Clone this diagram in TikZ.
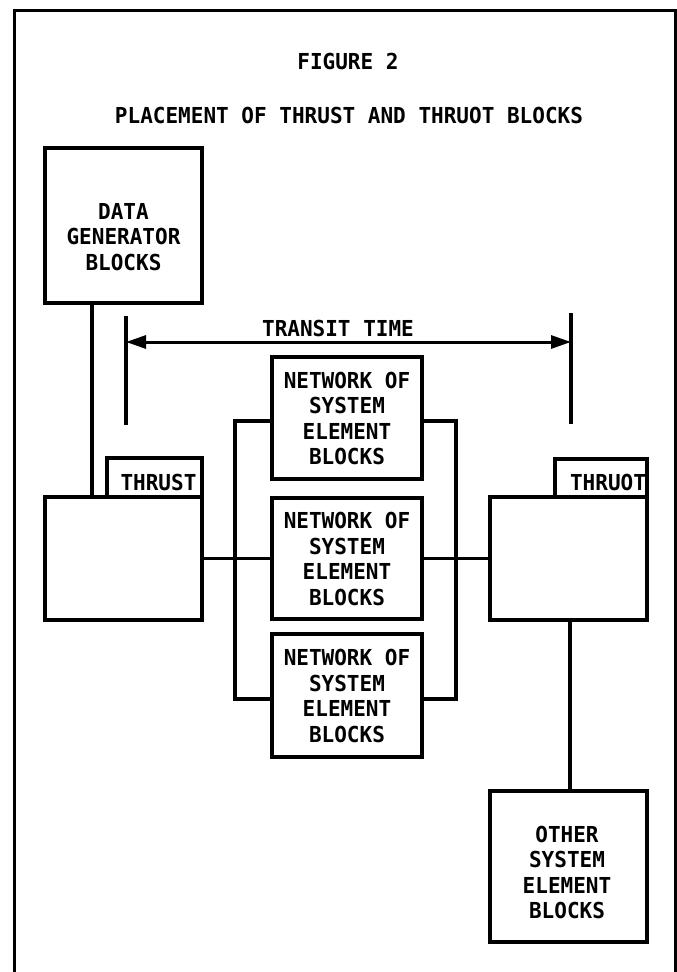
\documentclass[tikz,border=0pt]{standalone}
\usepackage{fontspec}
\newfontfamily\monof[FakeStretch=0.955]{DejaVu Sans Mono Bold}
\usetikzlibrary{arrows.meta}
\tikzset{
  blk/.style={draw, rectangle, line width=3.4pt, inner sep=0pt},
  txt/.style={font=\monof\fontsize{22}{25.5}\selectfont, align=center, inner sep=0pt},
  wire/.style={line width=3.2pt},
  dimarrow/.style={line width=3pt, {Triangle[length=20pt,width=13pt]}-{Triangle[length=20pt,width=13pt]}}
}
\begin{document}
\begin{tikzpicture}[x=1pt,y=-1pt]
\useasboundingbox (0,0) rectangle (677,972);
% frame
\draw[wire, line width=3pt] (14,972) -- (14,10) -- (675,10) -- (675,972);
% titles
\node[txt] (fig) at (348,61) {FIGURE 2};
\node[txt] (ttl) at (349,115) {PLACEMENT OF THRUST AND THRUOT BLOCKS};
% boxes
\node[blk, minimum width=157pt, minimum height=155pt] (dg) at (123.5,225.5) {};
\node[txt] (dgt) at (123.5,237) {DATA\\GENERATOR\\BLOCKS};
\node[blk, minimum width=95pt, minimum height=39pt] (tst) at (154.5,477.5) {};
\node[txt] (tstt) at (158.5,482) {THRUST};
\node[blk, minimum width=157pt, minimum height=123pt] (lb) at (123.5,558.5) {};
\node[blk, minimum width=150pt, minimum height=122pt] (n1) at (347,418) {};
\node[txt] (n1t) at (347,418.5) {NETWORK OF\\SYSTEM\\ELEMENT\\BLOCKS};
\node[blk, minimum width=150pt, minimum height=121pt] (n2) at (347,558.5) {};
\node[txt] (n2t) at (347,559) {NETWORK OF\\SYSTEM\\ELEMENT\\BLOCKS};
\node[blk, minimum width=150pt, minimum height=123pt] (n3) at (347,695.5) {};
\node[txt] (n3t) at (347,696) {NETWORK OF\\SYSTEM\\ELEMENT\\BLOCKS};
\node[blk, minimum width=92pt, minimum height=38pt] (tot) at (601,478) {};
\node[txt] (tott) at (608,482) {THRUOT};
\node[blk, minimum width=157pt, minimum height=123pt] (rb) at (568.5,558.5) {};
\node[blk, minimum width=157pt, minimum height=151pt] (ob) at (568.5,866.5) {};
\node[txt] (obt) at (567,872.5) {OTHER\\SYSTEM\\ELEMENT\\BLOCKS};
% coordinates
\coordinate (c92) at (92,0);
\coordinate (c570) at (570,0);
\coordinate (btl) at (235,421);
\coordinate (bbl) at (235,699);
\coordinate (btr) at (456,421);
\coordinate (bbr) at (456,699);
\coordinate (tl1) at (126,316);
\coordinate (tl2) at (126,425);
\coordinate (tr1) at (571,313);
\coordinate (tr2) at (571,424);
\coordinate (ya) at (0,342);
% connectors
\draw[wire] (dg.south -| c92) -- (lb.north -| c92);
\draw[wire] (lb.east) -- (n2.west);
\draw[wire] (n2.east) -- (rb.west);
\draw[wire] (n1.west |- btl) -- (btl) -- (bbl) -- (n3.west |- bbl);
\draw[wire] (n1.east |- btr) -- (btr) -- (bbr) -- (n3.east |- bbr);
\draw[wire] (rb.south -| c570) -- (ob.north -| c570);
% transit time
\draw[wire] (tl1) -- (tl2);
\draw[wire] (tr1) -- (tr2);
\draw[dimarrow] (tl1 |- ya) -- (tr1 |- ya);
\node[txt] (tt) at (338,328) {TRANSIT TIME};
\end{tikzpicture}
\end{document}
